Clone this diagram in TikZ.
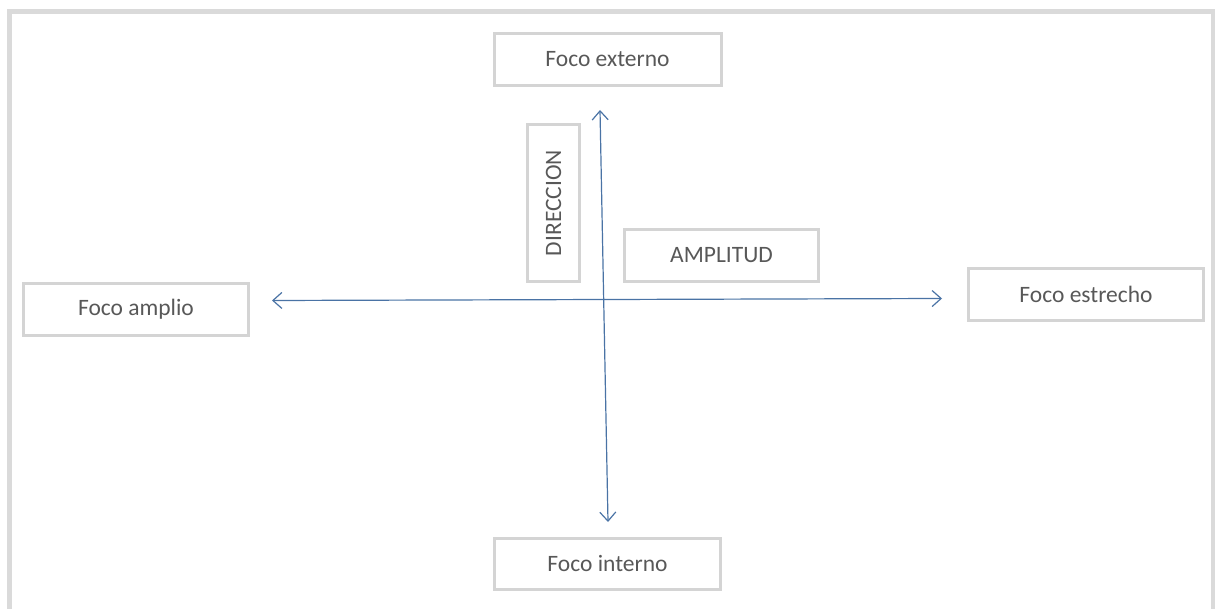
\documentclass[tikz,border=0pt]{standalone}
\usepackage{fontspec}
\setmainfont{Carlito}
\usetikzlibrary{arrows.meta}
\definecolor{framegray}{RGB}{218,218,218}
\definecolor{boxgray}{RGB}{212,212,212}
\definecolor{txtgray}{RGB}{88,88,88}
\definecolor{axisblue}{RGB}{74,115,165}
\tikzset{
  labelbox/.style={draw=boxgray, line width=3pt, rectangle, inner sep=0pt,
    text=txtgray, font=\fontsize{23.5}{28}\selectfont, minimum height=52pt},
  axis/.style={draw=axisblue, line width=1.2pt,
    {Straight Barb[length=9pt,width=16pt,line width=1.2pt]}-{Straight Barb[length=9pt,width=16pt,line width=1.2pt]}},
  outerframe/.style={draw=framegray, line width=5pt}
}
\begin{document}
\begin{tikzpicture}[x=1pt,y=-1pt]
\useasboundingbox (0,0) rectangle (1215,609);
% outer frame (open at bottom)
\coordinate (fbl) at (9.5,612);
\coordinate (ftl) at (9.5,12);
\coordinate (ftr) at (1213,12);
\coordinate (fbr) at (1213,612);
\draw[outerframe] (fbl) -- (ftl) -- (ftr) -- (fbr);
% boxes
\node[labelbox, minimum width=227pt] (ext) at (607.5,59.5) {Foco externo};
\node[labelbox, minimum width=226pt, minimum height=51pt] (int) at (607.5,563.5) {Foco interno};
\node[labelbox, minimum width=225pt] (amp) at (136,309.5) {Foco amplio};
\node[labelbox, minimum width=235pt] (est) at (1086,294.5) {Foco estrecho};
\node[labelbox, minimum width=194pt] (ampl) at (721.5,255.5) {AMPLITUD};
\node[labelbox, rotate=90, minimum width=157pt] (dir) at (553.5,203) {DIRECCION};
% axes
\coordinate (vt) at (600,110);
\coordinate (vb) at (608,522);
\coordinate (hl) at (272,300.5);
\coordinate (hr) at (942,298.5);
\draw[axis] (vt) -- (vb);
\draw[axis] (hl) -- (hr);
\end{tikzpicture}
\end{document}
